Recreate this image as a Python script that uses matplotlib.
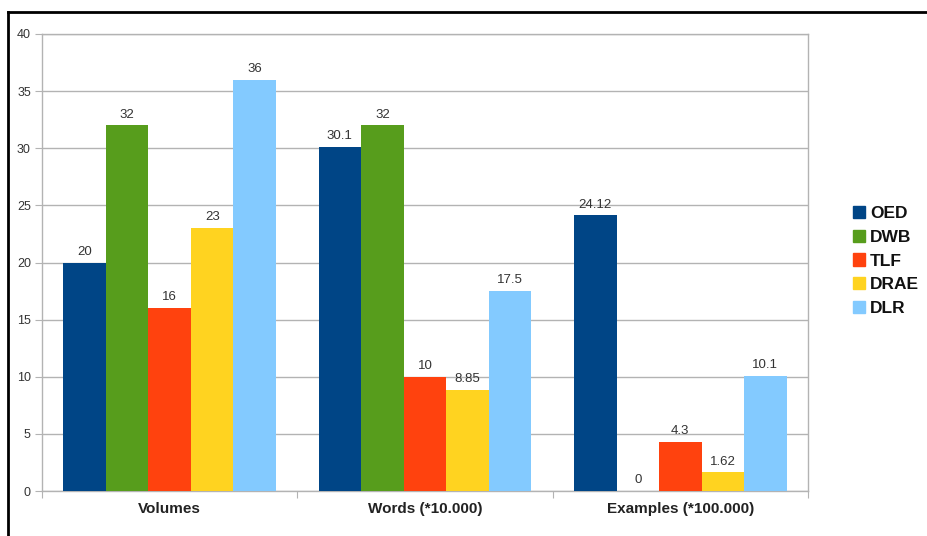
import matplotlib
matplotlib.use("Agg")
import matplotlib.pyplot as plt
from matplotlib.lines import Line2D
import numpy as np

categories = ["Volumes", "Words (*10.000)", "Examples (*100.000)"]
series = ["OED", "DWB", "TLF", "DRAE", "DLR"]
values = {
    "OED": [20, 30.1, 24.12],
    "DWB": [32, 32, 0],
    "TLF": [16, 10, 4.3],
    "DRAE": [23, 8.85, 1.62],
    "DLR": [36, 17.5, 10.1],
}
labels = {
    "OED": ["20", "30.1", "24.12"],
    "DWB": ["32", "32", "0"],
    "TLF": ["16", "10", "4.3"],
    "DRAE": ["23", "8.85", "1.62"],
    "DLR": ["36", "17.5", "10.1"],
}
colors = ["#004586", "#579D1C", "#FF420E", "#FFD320", "#83CAFF"]
yticks = [0, 5, 10, 15, 20, 25, 30, 35, 40]

plt.rcParams['font.family'] = ['Liberation Sans', 'DejaVu Sans']

fig = plt.figure(figsize=(9.27, 5.36), dpi=100)
ax = fig.add_axes([42/927, 1-491/536, (808-42)/927, (491-34)/536])

x = np.arange(len(categories))
w = 1/6
grid_c = "#b3b3b3"
for i, s in enumerate(series):
    pos = x - 2*w + i*w
    ax.bar(pos, values[s], width=w, color=colors[i], label=s, zorder=3)
    for p, v, t in zip(pos, values[s], labels[s]):
        ax.annotate(t, (p, v), xytext=(0, 3.5), textcoords="offset points",
                    ha="center", va="bottom", fontsize=9.5, color="#333333", zorder=4)

ax.set_xlim(-0.5, 2.5)
ax.set_ylim(0, 40)
ax.set_yticks(yticks)
ax.set_yticklabels([str(v) for v in yticks], fontsize=9, color="#333333")
ax.yaxis.grid(True, color=grid_c, linewidth=1, zorder=0)
ax.set_axisbelow(True)
ax.tick_params(axis="y", length=5, color=grid_c, pad=3)

ax.set_xticks([-0.5, 0.5, 1.5, 2.5])
ax.set_xticklabels([])
ax.set_xticks(x, minor=True)
ax.set_xticklabels(categories, minor=True, fontsize=11, fontweight="bold", color="#222222")
ax.tick_params(axis="x", which="major", length=5, color=grid_c)
ax.tick_params(axis="x", which="minor", length=0, pad=8)

for sp in ax.spines.values():
    sp.set_color(grid_c)
    sp.set_linewidth(1)

handles = [plt.Rectangle((0, 0), 1, 1, color=c) for c in colors]
leg = fig.legend(handles, series, loc="center left", bbox_to_anchor=(837/927, 1-261/536),
                 frameon=False, handlelength=0.7, handleheight=0.7, handletextpad=0.3,
                 labelspacing=0.5, prop={"size": 12.5, "weight": "bold"})
for t in leg.get_texts():
    t.set_color("#111111")

fig.add_artist(Line2D([8/927, 1], [1-12/536, 1-12/536], color="black", linewidth=2, transform=fig.transFigure))
fig.add_artist(Line2D([8/927, 8/927], [0, 1-12/536], color="black", linewidth=2, transform=fig.transFigure))

fig.savefig("out.png", dpi=100)
